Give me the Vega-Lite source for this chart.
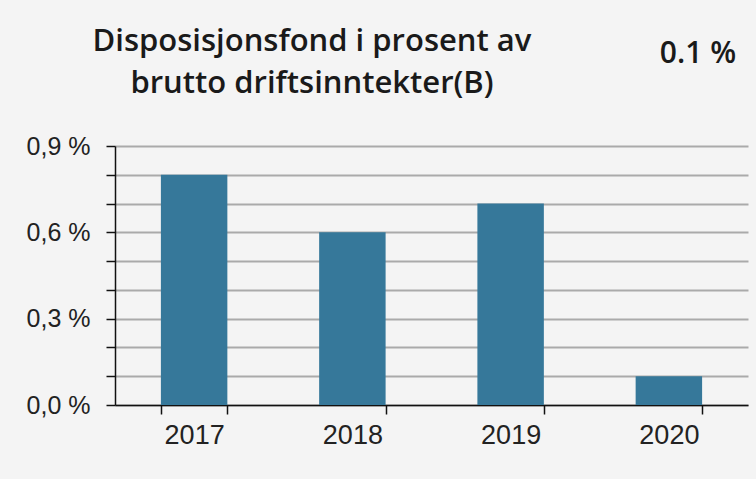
{
  "$schema": "https://vega.github.io/schema/vega-lite/v6.json",
  "autosize": {"type": "none"},
  "width": 633,
  "height": 259,
  "padding": {"left": 115, "top": 146, "right": 8, "bottom": 74},
  "background": "#f4f4f4",
  "config": {"view": {"stroke": null}},
  "title": {
    "text": ["Disposisjonsfond i prosent av", "brutto driftsinntekter(B)"],
    "anchor": "start",
    "frame": "group",
    "align": "center",
    "baseline": "alphabetic",
    "dx": 197,
    "offset": -85,
    "font": "Open Sans",
    "fontSize": 31,
    "fontWeight": 600,
    "color": "#1a1a1a",
    "lineHeight": 42
  },
  "datasets": {
    "bars": [
      {"year": "2017", "value": 0.8},
      {"year": "2018", "value": 0.6},
      {"year": "2019", "value": 0.7},
      {"year": "2020", "value": 0.1}
    ],
    "note": [{"label": "0.1 %"}]
  },
  "layer": [
    {
      "data": {"name": "bars"},
      "mark": {"type": "bar", "color": "#36789a"},
      "encoding": {
        "x": {
          "field": "year",
          "type": "nominal",
          "scale": {"paddingInner": 0.58, "paddingOuter": 0.29},
          "axis": {
            "title": null,
            "labelAngle": 0,
            "tickBand": "extent",
            "tickSize": 9,
            "tickColor": "#111",
            "tickWidth": 1.5,
            "domainColor": "#111",
            "domainWidth": 1.5,
            "labelFont": "Liberation Sans",
            "labelFontSize": 27,
            "labelColor": "#222",
            "labelPadding": 8
          }
        },
        "y": {
          "field": "value",
          "type": "quantitative",
          "scale": {"domain": [0, 0.9], "nice": false},
          "axis": {
            "title": null,
            "values": [0, 0.1, 0.2, 0.3, 0.4, 0.5, 0.6, 0.7, 0.8, 0.9],
            "tickCount": 20,
            "labelOverlap": false,
            "labelExpr": "round(datum.value * 10) % 3 == 0 ? replace(format(datum.value, '.1f'), '.', ',') + ' %' : ''",
            "grid": true,
            "gridColor": "#aaaaaa",
            "gridWidth": 2,
            "tickSize": 9,
            "tickColor": "#111",
            "tickWidth": 1.5,
            "domainColor": "#111",
            "domainWidth": 1.5,
            "labelFont": "Liberation Sans",
            "labelFontSize": 25,
            "labelColor": "#222",
            "labelPadding": 16
          }
        }
      }
    },
    {
      "data": {"name": "note"},
      "mark": {
        "type": "text",
        "align": "right",
        "baseline": "alphabetic",
        "dx": 34,
        "dy": -83,
        "font": "Open Sans",
        "fontSize": 30,
        "fontWeight": 600,
        "color": "#1a1a1a"
      },
      "encoding": {
        "x": {"datum": "2020", "type": "nominal", "bandPosition": 1},
        "y": {"datum": 0.9, "type": "quantitative"},
        "text": {"field": "label"}
      }
    }
  ]
}
